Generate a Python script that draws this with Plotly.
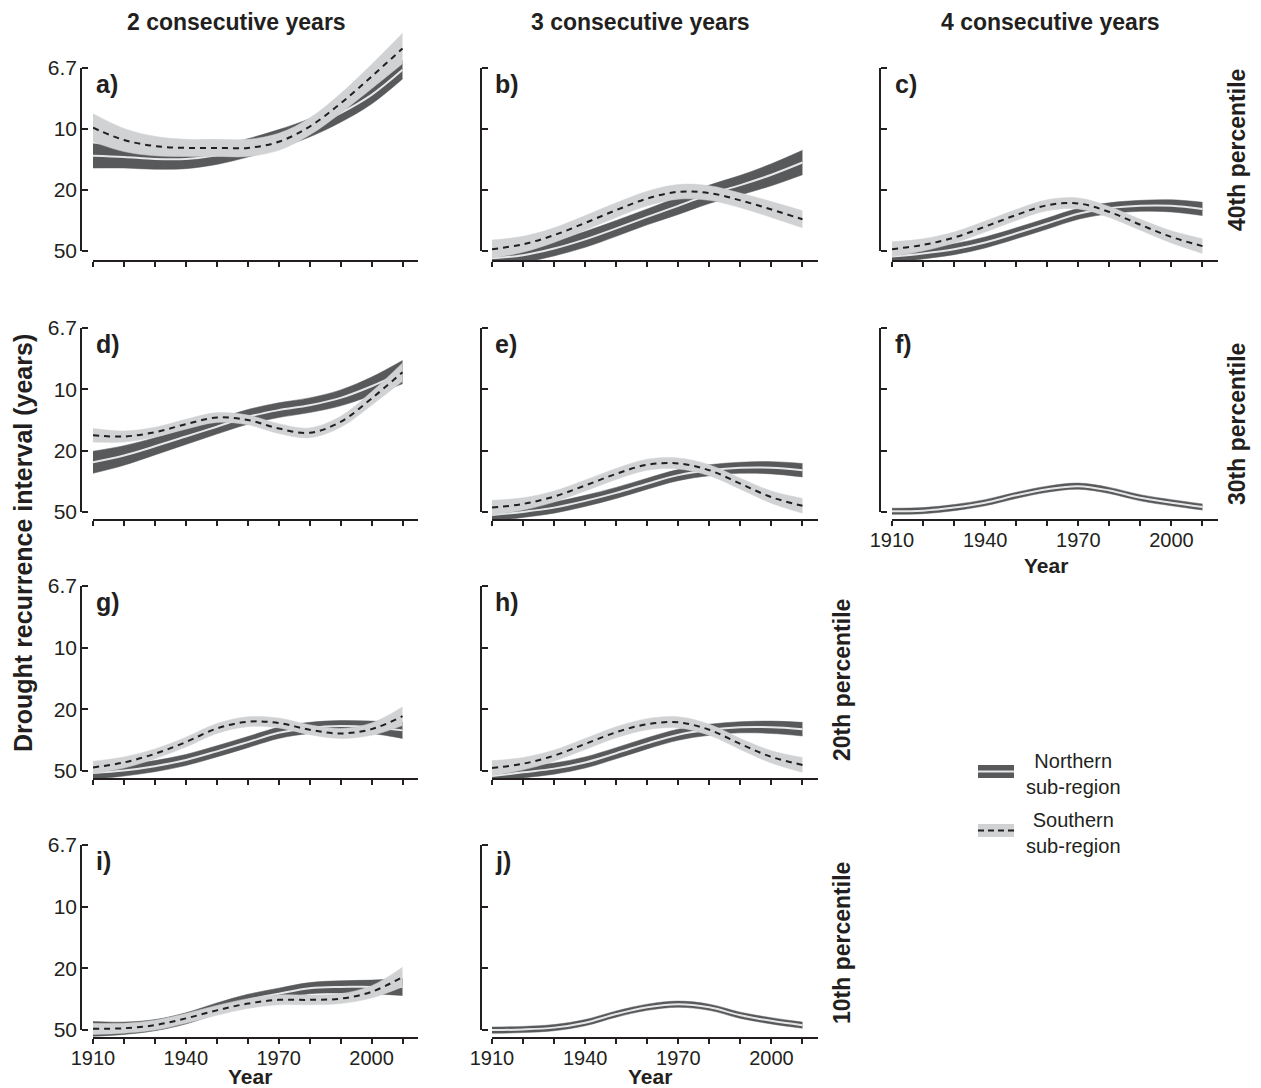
import plotly.graph_objects as go

# page body has an 8px margin: the figure is sized/positioned to compensate
OFF = 8
W, H = 1261 - OFF, 1088 - OFF

# ---------------- data ----------------
YEARS = [1910, 1920, 1930, 1940, 1950, 1960, 1970, 1980, 1990, 2000, 2010]
# y axis: equally spaced recurrence-interval ticks (index scale)
Y_TICK_VALS = [0, 1, 2, 3]
Y_TICK_TEXT = ["6.7", "10", "20", "50"]
X_TICK_TEXT = ["1910", "", "", "1940", "", "", "1970", "", "", "2000", ""]

COL_TITLES = ["2 consecutive years", "3 consecutive years", "4 consecutive years"]
ROW_TITLES = ["40th percentile", "30th percentile", "20th percentile", "10th percentile"]

# a) 2 years, 40th
A_NORTH = [1.44, 1.46, 1.49, 1.49, 1.43, 1.31, 1.16, 0.98, 0.74, 0.44, 0.03]
A_NORTH_HW = [0.20, 0.18, 0.17, 0.16, 0.15, 0.15, 0.15, 0.15, 0.15, 0.15, 0.15]
A_SOUTH = [0.98, 1.18, 1.28, 1.31, 1.31, 1.31, 1.21, 0.96, 0.58, 0.14, -0.32]
A_SOUTH_HW = [0.23, 0.19, 0.16, 0.14, 0.14, 0.14, 0.14, 0.14, 0.16, 0.20, 0.25]
# b) 3 years, 40th
B_NORTH = [3.12, 3.07, 2.96, 2.81, 2.63, 2.44, 2.26, 2.07, 1.92, 1.75, 1.55]
B_NORTH_HW = [0.12, 0.12, 0.12, 0.13, 0.13, 0.13, 0.14, 0.15, 0.16, 0.18, 0.20]
B_SOUTH = [2.97, 2.89, 2.74, 2.54, 2.33, 2.14, 2.03, 2.05, 2.17, 2.32, 2.48]
B_SOUTH_HW = [0.15, 0.13, 0.12, 0.12, 0.12, 0.12, 0.12, 0.12, 0.12, 0.13, 0.14]
# c) 4 years, 40th
C_NORTH = [3.09, 3.04, 2.97, 2.86, 2.71, 2.55, 2.39, 2.30, 2.26, 2.26, 2.31]
C_NORTH_HW = [0.10, 0.09, 0.09, 0.09, 0.09, 0.09, 0.09, 0.09, 0.09, 0.10, 0.11]
C_SOUTH = [2.97, 2.90, 2.78, 2.60, 2.41, 2.25, 2.22, 2.36, 2.57, 2.77, 2.92]
C_SOUTH_HW = [0.12, 0.10, 0.09, 0.09, 0.09, 0.09, 0.09, 0.09, 0.09, 0.10, 0.12]
# d) 2 years, 30th
D_NORTH = [2.19, 2.08, 1.93, 1.77, 1.61, 1.45, 1.34, 1.26, 1.14, 0.95, 0.72]
D_NORTH_HW = [0.18, 0.16, 0.14, 0.13, 0.12, 0.12, 0.12, 0.12, 0.13, 0.15, 0.19]
D_SOUTH = [1.75, 1.77, 1.70, 1.57, 1.46, 1.50, 1.64, 1.71, 1.53, 1.15, 0.72]
D_SOUTH_HW = [0.11, 0.09, 0.08, 0.08, 0.08, 0.08, 0.08, 0.08, 0.09, 0.11, 0.15]
# e) 3 years, 30th
E_NORTH = [3.05, 3.00, 2.93, 2.82, 2.69, 2.54, 2.40, 2.32, 2.28, 2.28, 2.32]
E_NORTH_HW = [0.10, 0.09, 0.09, 0.09, 0.09, 0.09, 0.09, 0.09, 0.09, 0.10, 0.11]
E_SOUTH = [2.93, 2.87, 2.75, 2.57, 2.38, 2.23, 2.21, 2.32, 2.54, 2.76, 2.90]
E_SOUTH_HW = [0.12, 0.10, 0.09, 0.09, 0.09, 0.09, 0.09, 0.09, 0.09, 0.10, 0.12]
# f) 4 years, 30th
F_NORTH = [2.99, 2.98, 2.93, 2.85, 2.73, 2.63, 2.58, 2.65, 2.77, 2.85, 2.92]
F_NORTH_HW = [0.05] * 11
# g) 2 years, 20th
G_NORTH = [3.03, 2.99, 2.92, 2.82, 2.68, 2.53, 2.38, 2.30, 2.27, 2.29, 2.34]
G_NORTH_HW = [0.10, 0.09, 0.09, 0.09, 0.09, 0.09, 0.09, 0.09, 0.09, 0.10, 0.13]
G_SOUTH = [2.94, 2.86, 2.72, 2.53, 2.31, 2.20, 2.22, 2.33, 2.39, 2.32, 2.11]
G_SOUTH_HW = [0.10, 0.09, 0.08, 0.08, 0.08, 0.08, 0.08, 0.08, 0.08, 0.10, 0.15]
# h) 3 years, 20th
H_NORTH = [3.08, 3.02, 2.96, 2.86, 2.71, 2.55, 2.41, 2.33, 2.29, 2.29, 2.32]
H_NORTH_HW = [0.10, 0.09, 0.09, 0.09, 0.09, 0.09, 0.09, 0.09, 0.09, 0.10, 0.11]
H_SOUTH = [2.95, 2.88, 2.75, 2.56, 2.37, 2.24, 2.21, 2.33, 2.56, 2.77, 2.90]
H_SOUTH_HW = [0.12, 0.10, 0.09, 0.09, 0.09, 0.09, 0.09, 0.09, 0.09, 0.10, 0.12]
# i) 2 years, 10th
I_NORTH = [2.98, 2.97, 2.92, 2.81, 2.65, 2.51, 2.41, 2.32, 2.30, 2.30, 2.30]
I_NORTH_HW = [0.12, 0.10, 0.09, 0.09, 0.09, 0.09, 0.09, 0.09, 0.10, 0.11, 0.14]
I_SOUTH = [2.98, 2.97, 2.92, 2.81, 2.68, 2.57, 2.51, 2.51, 2.49, 2.38, 2.14]
I_SOUTH_HW = [0.09, 0.08, 0.08, 0.08, 0.08, 0.08, 0.08, 0.08, 0.08, 0.10, 0.16]
# j) 3 years, 10th
J_NORTH = [3.00, 2.99, 2.96, 2.88, 2.74, 2.63, 2.58, 2.63, 2.76, 2.85, 2.92]
J_NORTH_HW = [0.05] * 11

# ---------------- style / geometry ----------------
FONT = "Liberation Sans, Arial, Helvetica, sans-serif"
INK = "#231f20"
DARK = "#58595b"
LIGHT = "#d1d2d4"
PALE = "#e6e7e8"

COL_X1910 = [93, 492, 892]      # pixel of 1910
COL_XEND = [418, 818, 1218]     # pixel of right end of x axis
COL_YLINE = [81, 481, 880]      # pixel of y-axis line
ROW_Y0 = [68, 328, 586, 845]    # pixel of tick "6.7"
ROW_UNIT = [61.0, 61.3, 61.7, 61.7]
ROW_XAX = [260, 519, 778, 1037]
TOP_PAD = 0.7


def PX(px):
    return (px - OFF) / W


def PY(py):
    return 1 - (py - OFF) / H


panels = [
    # label, row, col, north, north_hw, south, south_hw, x tick labels
    ("a)", 0, 0, A_NORTH, A_NORTH_HW, A_SOUTH, A_SOUTH_HW, False),
    ("b)", 0, 1, B_NORTH, B_NORTH_HW, B_SOUTH, B_SOUTH_HW, False),
    ("c)", 0, 2, C_NORTH, C_NORTH_HW, C_SOUTH, C_SOUTH_HW, False),
    ("d)", 1, 0, D_NORTH, D_NORTH_HW, D_SOUTH, D_SOUTH_HW, False),
    ("e)", 1, 1, E_NORTH, E_NORTH_HW, E_SOUTH, E_SOUTH_HW, False),
    ("f)", 1, 2, F_NORTH, F_NORTH_HW, None, None, True),
    ("g)", 2, 0, G_NORTH, G_NORTH_HW, G_SOUTH, G_SOUTH_HW, False),
    ("h)", 2, 1, H_NORTH, H_NORTH_HW, H_SOUTH, H_SOUTH_HW, False),
    ("i)", 3, 0, I_NORTH, I_NORTH_HW, I_SOUTH, I_SOUTH_HW, True),
    ("j)", 3, 1, J_NORTH, J_NORTH_HW, None, None, True),
]

fig = go.Figure()
layout = {}
shapes = []
annotations = []


def band(xa, ya, center, hw, color):
    lo = [c + h for c, h in zip(center, hw)]
    hi = [c - h for c, h in zip(center, hw)]
    fig.add_trace(go.Scatter(x=YEARS, y=lo, mode="lines", xaxis=xa, yaxis=ya,
                             line=dict(color=color, width=0.5, shape="spline"),
                             showlegend=False, hoverinfo="skip"))
    fig.add_trace(go.Scatter(x=YEARS, y=hi, mode="lines", xaxis=xa, yaxis=ya,
                             line=dict(color=color, width=0.5, shape="spline"),
                             fill="tonexty", fillcolor=color,
                             showlegend=False, hoverinfo="skip"))


for i, (lab, r, c, north, nhw, south, shw, xlab) in enumerate(panels, start=1):
    sfx = "" if i == 1 else str(i)
    xa, ya = "x" + sfx, "y" + sfx
    band(xa, ya, north, nhw, DARK)
    fig.add_trace(go.Scatter(x=YEARS, y=north, mode="lines", xaxis=xa, yaxis=ya,
                             line=dict(color=PALE, width=2, shape="spline"),
                             showlegend=False, name="Northern sub-region"))
    if south is not None:
        band(xa, ya, south, shw, LIGHT)
        fig.add_trace(go.Scatter(x=YEARS, y=south, mode="lines", xaxis=xa, yaxis=ya,
                                 line=dict(color=INK, width=2, dash="6px,5px", shape="spline"),
                                 showlegend=False, name="Southern sub-region"))

    unit = ROW_UNIT[r]
    bottom = (ROW_XAX[r] - ROW_Y0[r]) / unit
    top_px = ROW_Y0[r] - TOP_PAD * unit
    ydom = [PY(ROW_XAX[r]), PY(top_px)]
    xdom = [PX(COL_X1910[c]), PX(COL_XEND[c])]
    ypos = PX(COL_YLINE[c])

    layout["xaxis" + sfx] = dict(
        domain=xdom, anchor=ya, range=[1910, 2015], automargin=False,
        showline=True, linewidth=2, linecolor=INK,
        ticks="outside", ticklen=5, tickwidth=1.5, tickcolor=INK,
        tickvals=YEARS, ticktext=X_TICK_TEXT if xlab else [""] * len(YEARS),
        showticklabels=xlab, showgrid=False, zeroline=False,
        ticklabelstandoff=-3,
        tickfont=dict(family=FONT, size=20, color=INK),
    )
    layout["yaxis" + sfx] = dict(
        domain=ydom, anchor="free", position=ypos, automargin=False,
        range=[bottom, -TOP_PAD],
        showline=False, showgrid=False, zeroline=False,
        ticks="inside", ticklen=6, tickwidth=1.5, tickcolor=INK,
        tickvals=Y_TICK_VALS, ticktext=Y_TICK_TEXT,
        showticklabels=(c == 0), ticklabelstandoff=4,
        tickfont=dict(family=FONT, size=21, color=INK),
    )
    # bracket-style y-axis line from first to last tick
    shapes.append(dict(type="line", xref="paper", yref=ya,
                       x0=ypos, x1=ypos, y0=Y_TICK_VALS[0], y1=Y_TICK_VALS[-1],
                       line=dict(color=INK, width=2)))
    annotations.append(dict(text=f"<b>{lab}</b>", xref=f"{xa} domain", yref=ya,
                            x=0.004, y=0.26, xanchor="left", yanchor="middle",
                            showarrow=False,
                            font=dict(family=FONT, size=25, color=INK)))

# column titles
for t, xc in zip(COL_TITLES, [236, 640, 1050]):
    annotations.append(dict(text=f"<b>{t}</b>", xref="paper", yref="paper",
                            x=PX(xc), y=PY(22), xanchor="center", yanchor="middle",
                            showarrow=False, font=dict(family=FONT, size=23, color=INK)))
# row titles (rotated)
for t, (xc, yc) in zip(ROW_TITLES, [(1237, 150), (1237, 424), (842, 680), (842, 943)]):
    annotations.append(dict(text=f"<b>{t}</b>", xref="paper", yref="paper",
                            x=PX(xc), y=PY(yc), xanchor="center", yanchor="middle",
                            textangle=-90, showarrow=False,
                            font=dict(family=FONT, size=23, color=INK)))
# y-axis title
annotations.append(dict(text="<b>Drought recurrence interval (years)</b>", xref="paper", yref="paper",
                        x=PX(23), y=PY(543), xanchor="center", yanchor="middle",
                        textangle=-90, showarrow=False,
                        font=dict(family=FONT, size=25, color=INK)))
# "Year" labels
for xc, yc in [(250, 1076), (650, 1076), (1046, 565)]:
    annotations.append(dict(text="<b>Year</b>", xref="paper", yref="paper",
                            x=PX(xc), y=PY(yc), xanchor="center", yanchor="middle",
                            showarrow=False, font=dict(family=FONT, size=21, color=INK)))

# legend (manual, drawn as keys + text)
LEG_ITEMS = [("Northern<br>sub-region", DARK, PALE, "solid", 771.5),
             ("Southern<br>sub-region", LIGHT, INK, "dash", 830.5)]
for text, bandc, linec, dash, yc in LEG_ITEMS:
    shapes.append(dict(type="rect", xref="paper", yref="paper",
                       x0=PX(978), x1=PX(1014), y0=PY(yc - 6.5), y1=PY(yc + 6.5),
                       fillcolor=bandc, line=dict(width=0)))
    shapes.append(dict(type="line", xref="paper", yref="paper",
                       x0=PX(978), x1=PX(1014), y0=PY(yc), y1=PY(yc),
                       line=dict(color=linec, width=2, dash="6px,4px" if dash == "dash" else "solid")))
    annotations.append(dict(text=text, xref="paper", yref="paper",
                            x=PX(1073), y=PY(yc + 2), xanchor="center", yanchor="middle",
                            align="center", showarrow=False,
                            font=dict(family=FONT, size=20, color=INK)))

layout.update(dict(
    width=W, height=H,
    margin=dict(l=0, r=0, t=0, b=0, autoexpand=False),
    paper_bgcolor="white", plot_bgcolor="white",
    showlegend=False,
    shapes=shapes, annotations=annotations,
    font=dict(family=FONT, color=INK),
))
fig.update_layout(**layout)
fig.write_html("out.html")
